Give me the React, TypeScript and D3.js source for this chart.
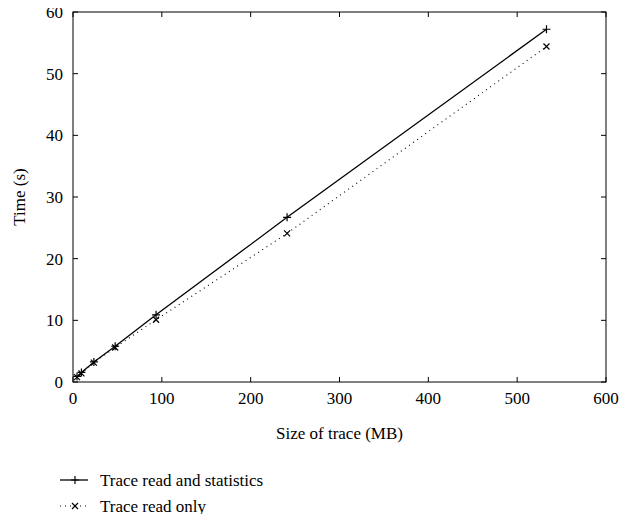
import React, { useEffect, useRef } from "react";
import * as d3 from "d3";

// sizes of trace in MB
const sizes = [4.5, 9.5, 23.5, 47.5, 93.5, 241, 533];
// time in seconds
const readAndStats = [0.9, 1.55, 3.25, 5.8, 10.9, 26.7, 57.2];
const readOnly = [0.8, 1.4, 3.15, 5.6, 10.1, 24.1, 54.4];

const xTicks = [0, 100, 200, 300, 400, 500, 600];
const yTicks = [0, 10, 20, 30, 40, 50, 60];

const seriesNames = ["Trace read and statistics", "Trace read only"];

const App = () => {
  const svgRef = useRef<SVGSVGElement>(null);

  useEffect(() => {
    const width = 638;
    const height = 518;
    const left = 73;
    const right = 606;
    const top = 12;
    const bottom = 382;
    const font = "Liberation Serif, Times New Roman, serif";

    const svg = d3.select(svgRef.current).attr("width", width).attr("height", height);
    svg.selectAll("*").remove();

    const x = d3.scaleLinear().domain([0, 600]).range([left, right]);
    const y = d3.scaleLinear().domain([0, 60]).range([bottom, top]);

    // frame
    svg
      .append("rect")
      .attr("x", left)
      .attr("y", top)
      .attr("width", right - left)
      .attr("height", bottom - top)
      .attr("fill", "none")
      .attr("stroke", "#000")
      .attr("stroke-width", 1);

    const tickLen = 5;

    // x ticks, bottom and top, pointing inward
    const xg = svg.append("g");
    xTicks.forEach((t) => {
      xg.append("line")
        .attr("x1", x(t)).attr("x2", x(t))
        .attr("y1", bottom).attr("y2", bottom - tickLen)
        .attr("stroke", "#000");
      xg.append("line")
        .attr("x1", x(t)).attr("x2", x(t))
        .attr("y1", top).attr("y2", top + tickLen)
        .attr("stroke", "#000");
      xg.append("text")
        .attr("x", x(t))
        .attr("y", bottom + 22)
        .attr("text-anchor", "middle")
        .style("font-family", font)
        .style("font-size", "17px")
        .text(t);
    });

    // y ticks, left and right
    const yg = svg.append("g");
    yTicks.forEach((t) => {
      yg.append("line")
        .attr("x1", left).attr("x2", left + tickLen)
        .attr("y1", y(t)).attr("y2", y(t))
        .attr("stroke", "#000");
      yg.append("line")
        .attr("x1", right).attr("x2", right - tickLen)
        .attr("y1", y(t)).attr("y2", y(t))
        .attr("stroke", "#000");
      yg.append("text")
        .attr("x", left - 10)
        .attr("y", y(t))
        .attr("dy", "0.35em")
        .attr("text-anchor", "end")
        .style("font-family", font)
        .style("font-size", "17px")
        .text(t);
    });

    // axis titles
    svg
      .append("text")
      .attr("x", (left + right) / 2)
      .attr("y", bottom + 57)
      .attr("text-anchor", "middle")
      .style("font-family", font)
      .style("font-size", "17px")
      .text("Size of trace (MB)");

    svg
      .append("text")
      .attr("transform", `translate(25, ${(top + bottom) / 2}) rotate(-90)`)
      .attr("text-anchor", "middle")
      .style("font-family", font)
      .style("font-size", "17px")
      .text("Time (s)");

    const line = d3
      .line<number>()
      .x((d, i) => x(sizes[i]))
      .y((d) => y(d));

    const plus = (g: any, cx: number, cy: number) => {
      g.append("path")
        .attr("d", `M${cx - 4},${cy}H${cx + 4}M${cx},${cy - 4}V${cy + 4}`)
        .attr("stroke", "#000")
        .attr("stroke-width", 1.2);
    };
    const cross = (g: any, cx: number, cy: number) => {
      g.append("path")
        .attr("d", `M${cx - 3},${cy - 3}L${cx + 3},${cy + 3}M${cx - 3},${cy + 3}L${cx + 3},${cy - 3}`)
        .attr("stroke", "#000")
        .attr("stroke-width", 1.2);
    };

    // series 1: solid with plus markers
    svg
      .append("path")
      .datum(readAndStats)
      .attr("d", line)
      .attr("fill", "none")
      .attr("stroke", "#000")
      .attr("stroke-width", 1.3);
    const m1 = svg.append("g");
    readAndStats.forEach((d, i) => plus(m1, x(sizes[i]), y(d)));

    // series 2: dotted with x markers
    svg
      .append("path")
      .datum(readOnly)
      .attr("d", line)
      .attr("fill", "none")
      .attr("stroke", "#000")
      .attr("stroke-width", 1.1)
      .attr("stroke-dasharray", "1,4");
    const m2 = svg.append("g");
    readOnly.forEach((d, i) => cross(m2, x(sizes[i]), y(d)));

    // legend
    const legend = svg.append("g");
    seriesNames.forEach((name, i) => {
      const ly = 480 + i * 26;
      legend
        .append("line")
        .attr("x1", 60).attr("x2", 88)
        .attr("y1", ly).attr("y2", ly)
        .attr("stroke", "#000")
        .attr("stroke-width", i === 0 ? 1.3 : 1.1)
        .attr("stroke-dasharray", i === 0 ? null : "1,4");
      if (i === 0) plus(legend, 75, ly);
      else cross(legend, 75, ly);
      legend
        .append("text")
        .attr("x", 100)
        .attr("y", ly)
        .attr("dy", "0.33em")
        .style("font-family", font)
        .style("font-size", "17px")
        .text(name);
    });
  }, []);

  return (
    <div style={{ margin: -8 }}>
      <svg ref={svgRef}></svg>
    </div>
  );
};

export default App;
